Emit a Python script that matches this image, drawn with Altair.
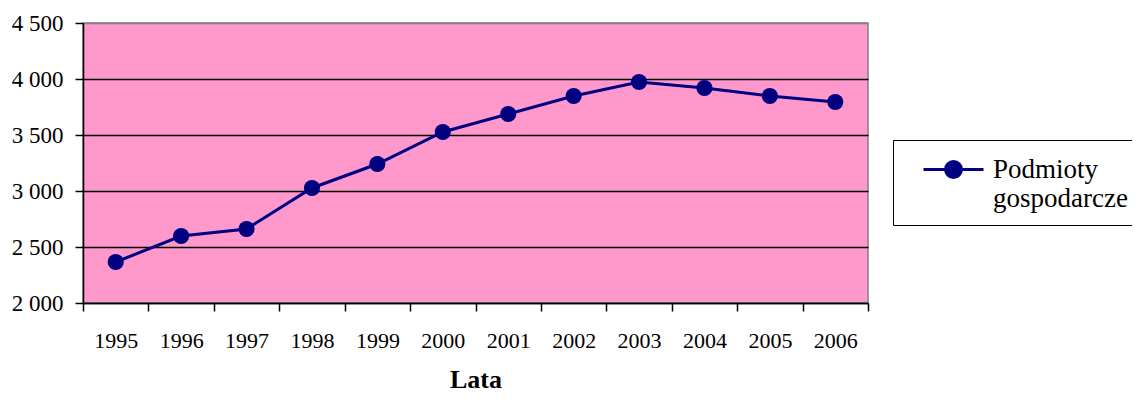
import altair as alt
import pandas as pd

years = ["1995", "1996", "1997", "1998", "1999", "2000", "2001", "2002", "2003", "2004", "2005", "2006"]
values = [2366, 2598, 2661, 3027, 3241, 3527, 3688, 3848, 3973, 3920, 3848, 3795]
series = ["Podmioty gospodarcze"] * len(years)
y_ticks = [2000, 2500, 3000, 3500, 4000, 4500]

df = pd.DataFrame({"rok": years, "wartosc": values, "seria": series})

FONT = "Liberation Serif"
NAVY = "#000080"

color = alt.Color(
    "seria:N",
    scale=alt.Scale(range=[NAVY]),
    legend=alt.Legend(
        title=None,
        orient="none",
        legendX=810,
        legendY=117,
        strokeColor="black",
        fillColor="white",
        padding=13,
        symbolOffset=31,
        symbolType="M -2 0 L 2 0 M 0.53 0 A 0.53 0.53 0 1 1 -0.53 0 A 0.53 0.53 0 1 1 0.53 0 Z",
        symbolSize=900,
        symbolStrokeWidth=3,
        symbolFillColor=NAVY,
        symbolStrokeColor=NAVY,
        labelFont=FONT,
        labelFontSize=27,
        labelColor="black",
        labelLimit=300,
        labelOffset=23,
        labelExpr="split(datum.label, ' ')",
    ),
)

chart = (
    alt.Chart(df)
    .mark_line(strokeWidth=3, point=alt.OverlayMarkDef(filled=True, size=260, opacity=1))
    .encode(
        x=alt.X(
            "rok:O",
            sort=years,
            scale=alt.Scale(paddingInner=0, paddingOuter=0),
            axis=alt.Axis(
                title="Lata",
                labelAngle=0,
                tickBand="extent",
                grid=False,
            ),
        ),
        y=alt.Y(
            "wartosc:Q",
            scale=alt.Scale(domain=[2000, 4500], nice=False, zero=False),
            axis=alt.Axis(
                title=None,
                values=y_ticks,
                labelExpr="replace(format(datum.value, ','), ',', ' ')",
                grid=True,
                gridColor={"condition": {"test": "datum.value === 4500", "value": "#808080"}, "value": "black"},
            ),
        ),
        color=color,
    )
    .properties(
        width=785,
        height=280,
        autosize=alt.AutoSizeParams(type="none"),
        padding={"left": 75, "top": 15, "right": 264, "bottom": 91},
    )
    .configure(background="white")
    .configure_view(fill="#FF99CC", stroke="#808080", strokeWidth=1.5)
    .configure_axis(
        labelFont=FONT,
        labelColor="black",
        tickColor="black",
        tickWidth=1.5,
        tickSize=8,
        domainColor="black",
        domainWidth=1.5,
        gridWidth=1.5,
        gridOpacity=1,
        titleFont=FONT,
        titleColor="black",
    )
    .configure_axisX(
        labelFontSize=22,
        labelPadding=19,
        titleFontSize=26,
        titleFontWeight="bold",
        titleBaseline="alphabetic",
        titleY=84,
    )
    .configure_axisY(
        labelFontSize=23,
        labelPadding=12,
    )
)

chart.save("out.html", embed_options={"renderer": "svg", "actions": False})
